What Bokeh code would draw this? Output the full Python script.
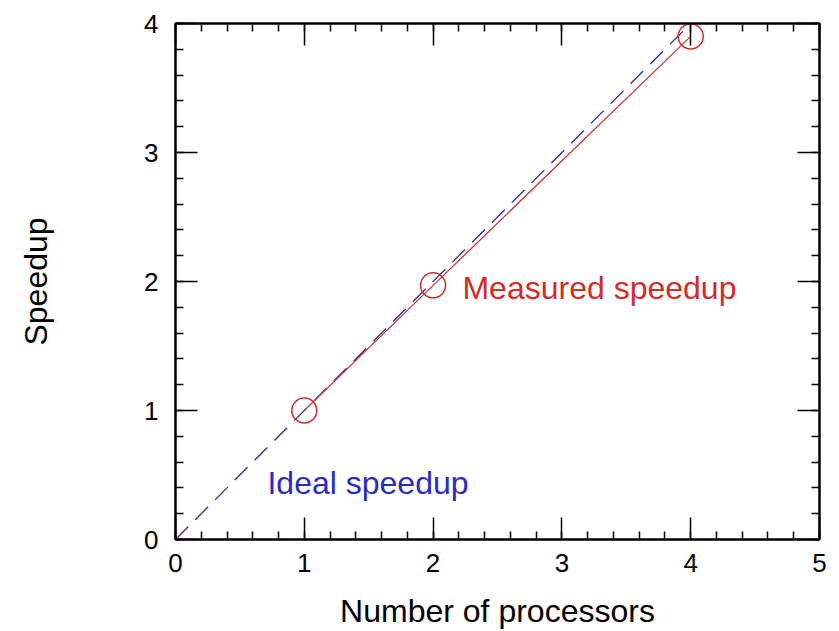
from bokeh.plotting import figure
from bokeh.models import Range1d, LinearAxis, FixedTicker
from bokeh.embed import file_html
from bokeh.resources import INLINE
from bokeh.core.properties import value

# data
processors = [1, 2, 4]
measured_speedup = [1.0, 1.97, 3.9]
ideal_x = [0, 4]
ideal_y = [0, 4]
major_ticks = [0, 1, 2, 3, 4, 5]
y_major_ticks = [0, 1, 2, 3, 4]
minor_x = [i / 5 for i in range(0, 26)]
minor_y = [i / 5 for i in range(0, 21)]
label_measured = ("Measured speedup", 2.228, 1.95)
label_ideal = ("Ideal speedup", 0.714, 0.44)

FONT = "Liberation Sans"
RED = "#d42a2a"
BLUE = "#2a2ac4"

p = figure(width=839, height=631, output_backend="svg", toolbar_location=None,
           x_range=Range1d(0, 5), y_range=Range1d(0, 4),
           min_border_left=175, min_border_right=20, min_border_top=23, min_border_bottom=92)
p.xgrid.visible = False
p.ygrid.visible = False
p.outline_line_color = "black"
p.outline_line_width = 2
p.background_fill_color = "white"
p.border_fill_color = "white"

xt = FixedTicker(ticks=major_ticks, minor_ticks=minor_x)
yt = FixedTicker(ticks=y_major_ticks, minor_ticks=minor_y)

def style(ax):
    ax.axis_line_color = "black"
    ax.axis_line_width = 2
    ax.major_tick_in = 22
    ax.major_tick_out = 0
    ax.minor_tick_in = 8
    ax.minor_tick_out = 0
    ax.major_tick_line_width = 1.5
    ax.minor_tick_line_width = 1.5
    ax.major_label_text_font = FONT
    ax.major_label_text_font_size = "26px"
    ax.major_label_text_color = "black"
    ax.axis_label_text_font = FONT
    ax.axis_label_text_font_size = "32px"
    ax.axis_label_text_font_style = "normal"
    ax.axis_label_text_color = "black"

xa = p.xaxis[0]
xa.ticker = xt
style(xa)
xa.axis_label = "Number of processors"
xa.major_label_standoff = 14
xa.axis_label_standoff = 18

ya = p.yaxis[0]
ya.ticker = yt
style(ya)
ya.axis_label = "Speedup"
ya.major_label_standoff = 17
ya.axis_label_standoff = 87

top = LinearAxis(ticker=FixedTicker(ticks=major_ticks, minor_ticks=minor_x))
style(top)
top.major_label_overrides = {t: "" for t in major_ticks}
top.major_label_standoff = 0
p.add_layout(top, "above")

right = LinearAxis(ticker=FixedTicker(ticks=y_major_ticks, minor_ticks=minor_y))
style(right)
right.major_label_overrides = {t: "" for t in y_major_ticks}
right.major_label_standoff = 0
p.add_layout(right, "right")

p.line(ideal_x, ideal_y, line_color="#2a2a80", line_width=1.3, line_dash="18 10")
p.line(processors, measured_speedup, line_color="#c83a3a", line_width=1.3)
p.scatter(processors, measured_speedup, marker="circle", size=25, fill_color=None,
          line_color="#c83030", line_width=1.5)

p.text(x=[label_measured[1]], y=[label_measured[2]], text=[label_measured[0]],
       text_font=value(FONT), text_font_size="32px", text_color=RED,
       text_align="left", text_baseline="alphabetic")
p.text(x=[label_ideal[1]], y=[label_ideal[2]], text=[label_ideal[0]],
       text_font=value(FONT), text_font_size="32px", text_color=BLUE,
       text_align="left", text_baseline="alphabetic")

open("out.html", "w").write(file_html(p, INLINE))
